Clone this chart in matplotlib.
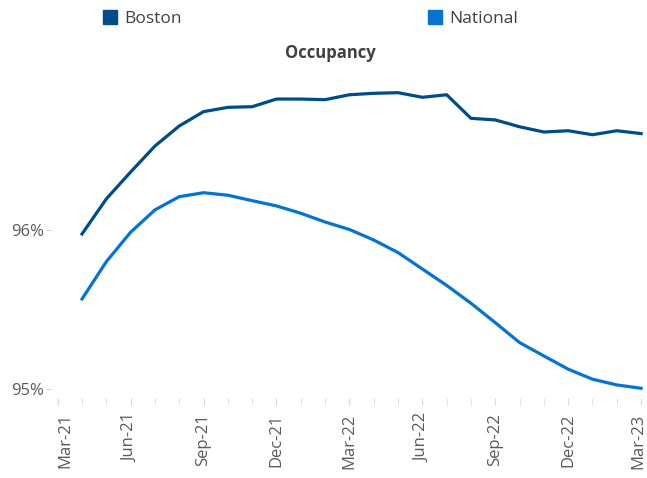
import numpy as np
import matplotlib.pyplot as plt
from matplotlib.patches import Patch
from matplotlib.transforms import ScaledTranslation

# monthly occupancy, Apr-21 .. Mar-23 (percent)
months = ["Apr-21", "May-21", "Jun-21", "Jul-21", "Aug-21", "Sep-21",
          "Oct-21", "Nov-21", "Dec-21", "Jan-22", "Feb-22", "Mar-22",
          "Apr-22", "May-22", "Jun-22", "Jul-22", "Aug-22", "Sep-22",
          "Oct-22", "Nov-22", "Dec-22", "Jan-23", "Feb-23", "Mar-23"]
boston = [95.975, 96.195, 96.364, 96.527, 96.653, 96.743, 96.770, 96.774,
          96.822, 96.822, 96.818, 96.849, 96.858, 96.862, 96.833, 96.849,
          96.701, 96.691, 96.648, 96.615, 96.623, 96.598, 96.623, 96.605]
national = [95.567, 95.801, 95.986, 96.126, 96.209, 96.234, 96.218, 96.184,
            96.151, 96.105, 96.050, 96.003, 95.937, 95.858, 95.755, 95.652,
            95.540, 95.418, 95.293, 95.209, 95.126, 95.063, 95.027, 95.006]
tick_labels = ["Mar-21", "Jun-21", "Sep-21", "Dec-21", "Mar-22",
               "Jun-22", "Sep-22", "Dec-22", "Mar-23"]

boston_col = "#004C89"
national_col = "#0574D1"

plt.rcParams['font.family'] = ['Open Sans', 'DejaVu Sans']

fig = plt.figure(figsize=(6.47, 4.78), dpi=100)
ax = fig.add_axes([52 / 647, 1 - 405 / 478, 593 / 647, 330 / 478])

x = np.arange(len(months))
ax.plot(x, boston, color=boston_col, linewidth=2.3)
ax.plot(x, national, color=national_col, linewidth=2.3)

ax.set_xlim(-1.235, 23.16)
ax.set_ylim(94.901, 96.973)

# month ticks, labels every quarter (Mar-21 sits one month before data)
ax.set_xticks(np.arange(-1, 24), minor=True)
ax.set_xticks(np.arange(-1, 24, 3))
ax.set_xticklabels(tick_labels, rotation=90)
ax.tick_params(axis='x', which='both', direction='in', length=5,
               color='#d9d9d9', pad=6)
ax.tick_params(axis='x', labelsize=12, labelcolor='#595959')

# nudge the end labels inward a little, like the original
lbls = ax.get_xticklabels()
lbls[0].set_transform(lbls[0].get_transform() +
                      ScaledTranslation(0.08, 0, fig.dpi_scale_trans))
lbls[-1].set_transform(lbls[-1].get_transform() +
                       ScaledTranslation(-0.03, 0, fig.dpi_scale_trans))

ax.set_yticks([95, 96])
ax.set_yticklabels(["95%", "96%"])
ax.tick_params(axis='y', length=4, color='#d9d9d9', labelsize=12,
               labelcolor='#595959', pad=2)

for s in ax.spines.values():
    s.set_visible(False)

fig.text(0.51, 1 - 53 / 478, "Occupancy", fontsize=12, fontweight='bold',
         color='#404040', ha='center', va='center')

handles = [Patch(color=boston_col, label="Boston"),
           Patch(color=national_col, label="National")]
fig.legend(handles=handles, loc='upper left', bbox_to_anchor=(93 / 647, 1.0),
           ncol=2, frameon=False, handlelength=0.8, handleheight=0.8,
           handletextpad=0.4, columnspacing=14.2, fontsize=12.5,
           labelcolor='#404040', borderaxespad=0.2)

fig.savefig("out.png", dpi=100)
